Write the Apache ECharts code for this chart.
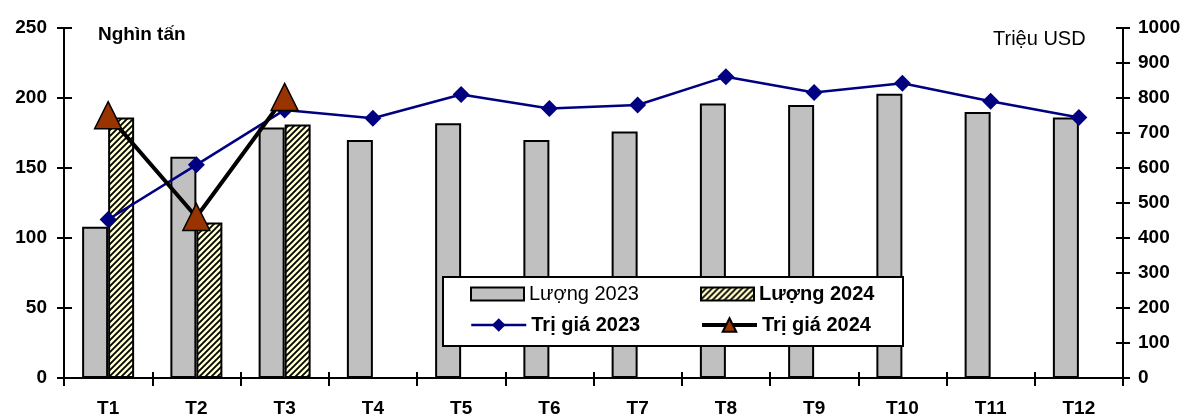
<!DOCTYPE html>
<html>
<head>
<meta charset="utf-8">
<script src="https://cdn.jsdelivr.net/npm/echarts@6/dist/echarts.min.js"></script>
<style>
  html, body { margin: 0; padding: 0; background: #fff; }
  #chart { width: 1188px; height: 416px; }
</style>
</head>
<body>
<div id="chart"></div>
<script>
// Months and monthly figures: volume (thousand tonnes) and value (million USD)
const months = ['T1', 'T2', 'T3', 'T4', 'T5', 'T6', 'T7', 'T8', 'T9', 'T10', 'T11', 'T12'];
const luong2023 = [108, 158, 179, 170, 182, 170, 176, 196, 195, 203, 190, 186];
const luong2024 = [186, 111, 181];
const triGia2023 = [453, 609, 766, 742, 810, 770, 780, 861, 816, 842, 791, 744];
const triGia2024 = [751, 460, 803];

const FONT = "'Liberation Sans', Arial, sans-serif";

// Pale yellow fill with black "/" hatching for the 2024 volume bars
function hatchPattern() {
  const s = 6;
  const c = document.createElement('canvas');
  c.width = s; c.height = s;
  const g = c.getContext('2d');
  g.fillStyle = '#FFFFCC';
  g.fillRect(0, 0, s, s);
  g.strokeStyle = '#000';
  g.lineWidth = 1.8;
  g.beginPath();
  g.moveTo(-1, s + 1); g.lineTo(s + 1, -1);
  g.moveTo(-1, 1); g.lineTo(1, -1);
  g.moveTo(s - 1, s + 1); g.lineTo(s + 1, s - 1);
  g.stroke();
  return { image: c, repeat: 'repeat' };
}

const plain = v => String(v);
const axisText = { color: '#000', fontFamily: FONT, fontWeight: 'bold', fontSize: 19, formatter: plain };
const blackLine = { color: '#000', width: 2 };
const legendText = { color: '#000', fontFamily: FONT, fontSize: 20 };

const chart = echarts.init(document.getElementById('chart'), null, { renderer: 'canvas' });

chart.setOption({
  animation: false,
  backgroundColor: '#fff',
  grid: { left: 64, right: 65, top: 28, bottom: 38, outerBoundsMode: 'none', containLabel: false },
  title: [
    { text: 'Nghìn tấn', left: 98, top: 25, padding: 0,
      textStyle: { color: '#000', fontFamily: FONT, fontWeight: 'bold', fontSize: 19 } },
    { text: 'Triệu USD', left: 993, top: 29, padding: 0,
      textStyle: { color: '#000', fontFamily: FONT, fontWeight: 'normal', fontSize: 20 } }
  ],
  graphic: [{
    type: 'rect', z: 10,
    shape: { x: 443, y: 277, width: 460, height: 69 },
    style: { fill: '#fff', stroke: '#000', lineWidth: 2 }
  }],
  legend: [
    { data: [{ name: 'Lượng 2023', icon: 'rect', textStyle: { fontWeight: 'normal' } }],
      left: 470, top: 284, padding: 0, itemWidth: 53, itemHeight: 13, z: 11,
      textStyle: legendText },
    { data: [{ name: 'Lượng 2024', icon: 'rect', textStyle: { fontWeight: 'bold' } }],
      left: 700, top: 284, padding: 0, itemWidth: 53, itemHeight: 13, z: 11,
      textStyle: legendText },
    { data: [{ name: 'Trị giá 2023', textStyle: { fontWeight: 'bold' } }],
      left: 470, top: 315, padding: 0, itemWidth: 55, itemHeight: 17, z: 11,
      lineStyle: { width: 2.5, color: '#000080' },
      textStyle: legendText },
    { data: [{ name: 'Trị giá 2024', textStyle: { fontWeight: 'bold' } }],
      left: 700, top: 315, padding: 0, itemWidth: 55, itemHeight: 17, z: 11,
      lineStyle: { width: 4, color: '#000' },
      textStyle: legendText }
  ],
  xAxis: [
    {
      type: 'category', data: months, boundaryGap: true, position: 'bottom',
      axisLine: { show: true, lineStyle: blackLine },
      axisTick: { show: true, alignWithLabel: false, length: 8, lineStyle: blackLine },
      axisLabel: Object.assign({}, axisText, { margin: 21, formatter: null }),
      splitLine: { show: false }
    },
    {
      // inner half of the crossing ticks
      type: 'category', data: months, boundaryGap: true, position: 'bottom',
      axisLine: { show: false },
      axisTick: { show: true, inside: true, alignWithLabel: false, length: 6, lineStyle: blackLine },
      axisLabel: { show: false },
      splitLine: { show: false }
    }
  ],
  yAxis: [
    {
      type: 'value', min: 0, max: 250, interval: 50, position: 'left',
      axisLine: { show: true, lineStyle: blackLine },
      axisTick: { show: true, length: 7, lineStyle: blackLine },
      axisLabel: Object.assign({ margin: 17 }, axisText),
      splitLine: { show: false }
    },
    {
      type: 'value', min: 0, max: 1000, interval: 100, position: 'right',
      axisLine: { show: true, lineStyle: blackLine },
      axisTick: { show: true, length: 7, lineStyle: blackLine },
      axisLabel: Object.assign({ margin: 15 }, axisText),
      splitLine: { show: false }
    },
    {
      type: 'value', min: 0, max: 250, interval: 50, position: 'left',
      axisLine: { show: false },
      axisTick: { show: true, inside: true, length: 8, lineStyle: blackLine },
      axisLabel: { show: false },
      splitLine: { show: false }
    },
    {
      type: 'value', min: 0, max: 1000, interval: 100, position: 'right',
      axisLine: { show: false },
      axisTick: { show: true, inside: true, length: 7, lineStyle: blackLine },
      axisLabel: { show: false },
      splitLine: { show: false }
    }
  ],
  series: [
    {
      name: 'Lượng 2023', type: 'bar', data: luong2023,
      barWidth: 26, barGap: '0%',
      itemStyle: { color: '#C0C0C0', borderColor: '#000', borderWidth: 2 }
    },
    {
      name: 'Lượng 2024', type: 'bar', data: luong2024,
      barWidth: 26, barGap: '0%',
      itemStyle: { color: hatchPattern(), borderColor: '#000', borderWidth: 2 }
    },
    {
      name: 'Trị giá 2023', type: 'line', yAxisIndex: 1, data: triGia2023, z: 3,
      symbol: 'diamond', symbolSize: 17,
      lineStyle: { color: '#000080', width: 2.5 },
      itemStyle: { color: '#000080' }
    },
    {
      name: 'Trị giá 2024', type: 'line', yAxisIndex: 1, data: triGia2024, z: 4,
      symbol: 'triangle', symbolSize: 27,
      lineStyle: { color: '#000', width: 4 },
      itemStyle: { color: '#993300', borderColor: '#000', borderWidth: 1.5 }
    }
  ]
});
</script>
</body>
</html>
